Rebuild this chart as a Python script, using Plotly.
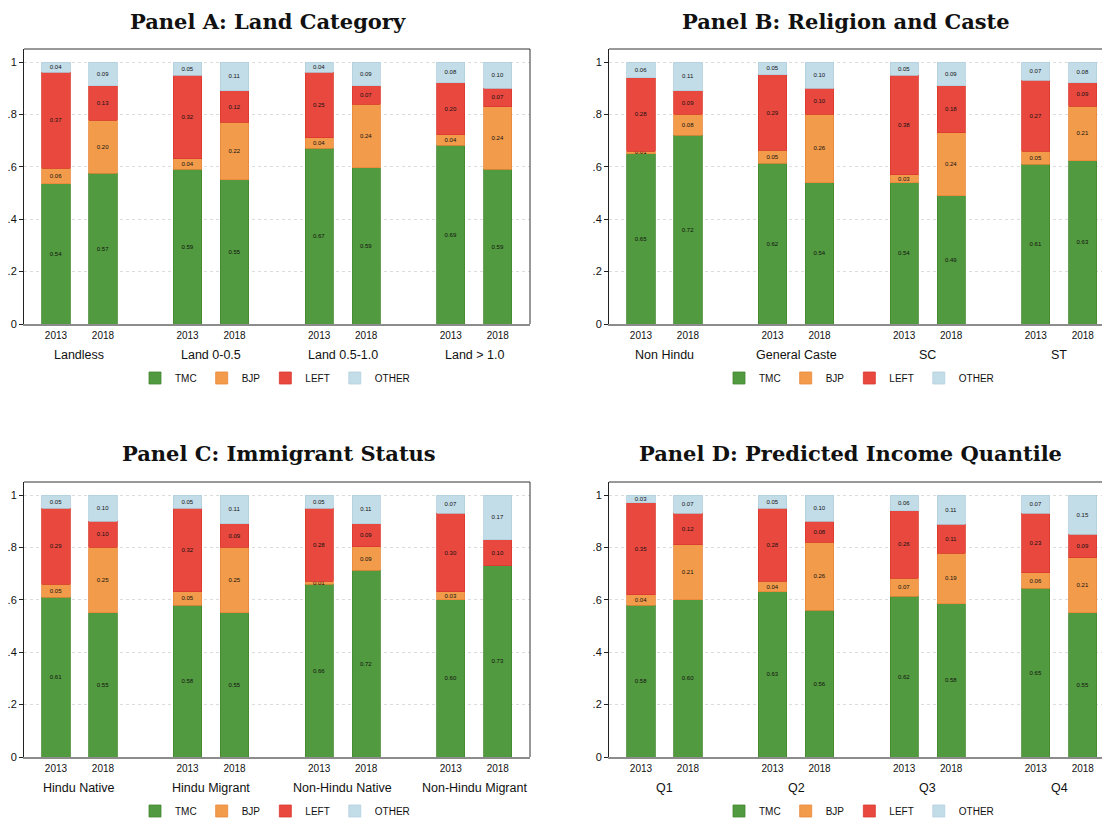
import plotly.graph_objects as go

# ---------------- data ----------------
years = ["2013", "2018"]
series_names = ["TMC", "BJP", "LEFT", "OTHER"]
series_colors = ["#529a3f", "#f29c4b", "#e9483f", "#c3dde8"]
series_lines = ["#43872f", "#e8873a", "#d93a30", "#b2d0dd"]

a_title = "Panel A: Land Category"
a_groups = ["Landless", "Land 0-0.5", "Land 0.5-1.0", "Land > 1.0"]
a_tmc = [0.54, 0.57, 0.59, 0.55, 0.67, 0.59, 0.69, 0.59]
a_bjp = [0.06, 0.20, 0.04, 0.22, 0.04, 0.24, 0.04, 0.24]
a_left = [0.37, 0.13, 0.32, 0.12, 0.25, 0.07, 0.20, 0.07]
a_other = [0.04, 0.09, 0.05, 0.11, 0.04, 0.09, 0.08, 0.10]

b_title = "Panel B: Religion and Caste"
b_groups = ["Non Hindu", "General Caste", "SC", "ST"]
b_tmc = [0.65, 0.72, 0.62, 0.54, 0.54, 0.49, 0.61, 0.63]
b_bjp = [0.01, 0.08, 0.05, 0.26, 0.03, 0.24, 0.05, 0.21]
b_left = [0.28, 0.09, 0.29, 0.10, 0.38, 0.18, 0.27, 0.09]
b_other = [0.06, 0.11, 0.05, 0.10, 0.05, 0.09, 0.07, 0.08]

c_title = "Panel C: Immigrant Status"
c_groups = ["Hindu Native", "Hindu Migrant", "Non-Hindu Native", "Non-Hindu Migrant"]
c_tmc = [0.61, 0.55, 0.58, 0.55, 0.66, 0.72, 0.60, 0.73]
c_bjp = [0.05, 0.25, 0.05, 0.25, 0.01, 0.09, 0.03, 0.00]
c_left = [0.29, 0.10, 0.32, 0.09, 0.28, 0.09, 0.30, 0.10]
c_other = [0.05, 0.10, 0.05, 0.11, 0.05, 0.11, 0.07, 0.17]

d_title = "Panel D: Predicted Income Quantile"
d_groups = ["Q1", "Q2", "Q3", "Q4"]
d_tmc = [0.58, 0.60, 0.63, 0.56, 0.62, 0.58, 0.65, 0.55]
d_bjp = [0.04, 0.21, 0.04, 0.26, 0.07, 0.19, 0.06, 0.21]
d_left = [0.35, 0.12, 0.28, 0.08, 0.26, 0.11, 0.23, 0.09]
d_other = [0.03, 0.07, 0.05, 0.10, 0.06, 0.11, 0.07, 0.15]

y_ticks = [0, 0.2, 0.4, 0.6, 0.8, 1.0]
y_ticktext = ["0", ".2", ".4", ".6", ".8", "1"]

# ---------------- layout constants (pixels) ----------------
W, H = 1102, 818
GROUP_GAP = 2.8
PX_PER_UNIT = 47.0
X_LEFT_PAD = 0.68

panels = [
    dict(title=a_title, groups=a_groups, vals=[a_tmc, a_bjp, a_left, a_other],
         left=24, top=49, bottom=324, right=530, tcx=268, lcx=275),
    dict(title=b_title, groups=b_groups, vals=[b_tmc, b_bjp, b_left, b_other],
         left=609, top=49, bottom=324, right=1102, tcx=846, lcx=859),
    dict(title=c_title, groups=c_groups, vals=[c_tmc, c_bjp, c_left, c_other],
         left=24, top=482, bottom=757, right=530, tcx=279, lcx=275),
    dict(title=d_title, groups=d_groups, vals=[d_tmc, d_bjp, d_left, d_other],
         left=609, top=482, bottom=757, right=1102, tcx=850, lcx=859),
]

fig = go.Figure()
layout_updates = {}
annotations = []
shapes = []

for i, p in enumerate(panels):
    k = "" if i == 0 else str(i + 1)
    xa, ya = "x" + k, "y" + k
    legend_name = "legend" if i == 0 else "legend" + str(i + 1)

    xs, ticktext = [], []
    for g in range(len(p["groups"])):
        for yi, yr in enumerate(years):
            xs.append(g * GROUP_GAP + yi)
            ticktext.append(yr)

    # shares normalised so each stacked bar reaches 1 (labels keep the read values)
    totals = [sum(p["vals"][s][j] for s in range(4)) for j in range(len(xs))]

    for s, name in enumerate(series_names):
        vals = p["vals"][s]
        fig.add_trace(go.Bar(
            x=xs, y=[v / t for v, t in zip(vals, totals)], name=name, xaxis=xa, yaxis=ya,
            width=0.6,
            marker=dict(color=series_colors[s], line=dict(color=series_lines[s], width=0.8)),
            text=[f"{v:.2f}" for v in vals],
            textposition="inside", insidetextanchor="middle", textangle=0,
            textfont=dict(size=6, color="#111", family="Liberation Sans"),
            legend=legend_name, showlegend=True, hoverinfo="skip",
        ))

    full_w = p["right"] - p["left"]
    x0 = -X_LEFT_PAD
    x1 = x0 + full_w / PX_PER_UNIT
    yr_top = (p["bottom"] - p["top"]) / 262.0

    layout_updates["xaxis" + k] = dict(
        domain=[p["left"] / W, p["right"] / W], range=[x0, x1],
        anchor=ya, tickmode="array", tickvals=xs, ticktext=ticktext,
        ticks="", showgrid=False, zeroline=False, automargin=False,
        showline=True, linecolor="#8c8c8c", linewidth=2,
        ticklabelstandoff=1,
        tickfont=dict(size=10, family="Liberation Sans", color="#111"),
        fixedrange=True,
    )
    layout_updates["yaxis" + k] = dict(
        domain=[1 - p["bottom"] / H, 1 - p["top"] / H], range=[0, yr_top],
        anchor=xa, tickmode="array", tickvals=y_ticks, ticktext=y_ticktext,
        ticks="outside", ticklen=4, tickcolor="#222", tickwidth=1,
        showgrid=True, gridcolor="#dcdcdc", griddash="dot", gridwidth=1,
        zeroline=False, showline=True, linecolor="#222", linewidth=1,
        automargin=False,
        tickfont=dict(size=11, family="Liberation Sans", color="#111"),
        fixedrange=True,
    )

    # top frame line (and right frame for left-column panels)
    shapes.append(dict(type="line", xref=xa + " domain", yref=ya + " domain",
                       x0=0, x1=1, y0=1, y1=1, line=dict(color="#333", width=1)))
    if p["right"] < W:
        shapes.append(dict(type="line", xref=xa + " domain", yref=ya + " domain",
                           x0=1, x1=1, y0=0, y1=1, line=dict(color="#333", width=1)))

    # group labels
    for g, gname in enumerate(p["groups"]):
        annotations.append(dict(
            x=g * GROUP_GAP + 0.5, xref=xa, y=1 - (p["bottom"] + 31) / H, yref="paper",
            text=gname, showarrow=False, xanchor="center", yanchor="middle",
            font=dict(size=12.5, family="Liberation Sans", color="#111"),
        ))

    # panel title
    annotations.append(dict(
        x=p["tcx"] / W, xref="paper", y=1 - (p["top"] - 28) / H, yref="paper",
        text="<b>" + p["title"] + "</b>", showarrow=False,
        xanchor="center", yanchor="middle",
        font=dict(size=21, family="DejaVu Serif", color="#111"),
    ))

    # legend
    layout_updates[legend_name] = dict(
        orientation="h", x=p["lcx"] / W, xanchor="center",
        y=1 - (p["bottom"] + 54) / H, yanchor="middle",
        font=dict(size=10, family="Liberation Sans", color="#111"),
        bgcolor="rgba(0,0,0,0)", traceorder="normal", itemwidth=30,
        tracegroupgap=0,
    )

fig.update_layout(
    width=W, height=H,
    margin=dict(l=0, r=0, t=0, b=0, autoexpand=False),
    paper_bgcolor="white", plot_bgcolor="white",
    barmode="stack", bargap=0,
    uniformtext=dict(minsize=6, mode="show"),
    annotations=annotations, shapes=shapes,
    **layout_updates,
)

fig.write_html(
    "out.html",
    config={"displayModeBar": False, "staticPlot": True},
    post_script="document.body.style.margin='0px';document.body.style.overflow='hidden';",
)
